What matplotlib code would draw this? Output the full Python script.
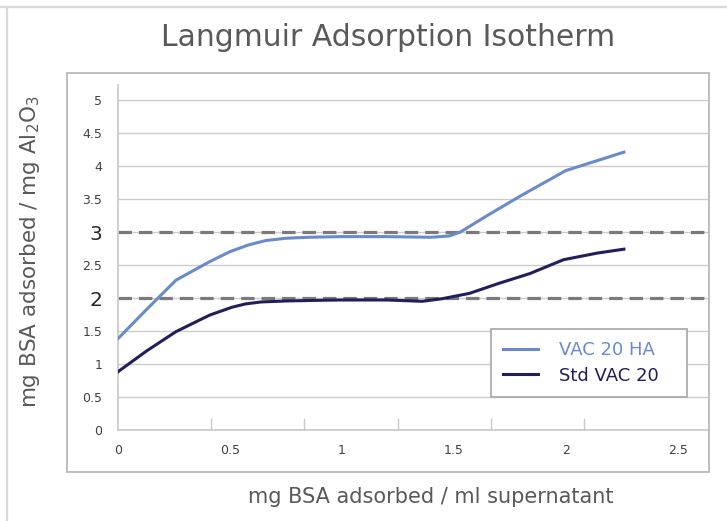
import matplotlib.pyplot as plt
from matplotlib.patches import Rectangle
from matplotlib.lines import Line2D

# values
ha_x = [0, 0.13, 0.26, 0.41, 0.5, 0.58, 0.66, 0.75, 0.85, 1.0, 1.2, 1.4, 1.48, 1.53, 1.65, 1.8, 2.0, 2.13, 2.26]
ha_y = [1.38, 1.83, 2.27, 2.55, 2.7, 2.8, 2.87, 2.905, 2.92, 2.93, 2.93, 2.92, 2.94, 3.0, 3.25, 3.55, 3.93, 4.07, 4.21]

std_x = [0, 0.13, 0.26, 0.41, 0.51, 0.57, 0.64, 0.75, 0.9, 1.0, 1.2, 1.36, 1.45, 1.57, 1.7, 1.84, 1.99, 2.14, 2.26]
std_y = [0.88, 1.2, 1.49, 1.74, 1.86, 1.91, 1.94, 1.955, 1.965, 1.97, 1.97, 1.95, 1.99, 2.07, 2.22, 2.37, 2.58, 2.68, 2.74]

ref_levels = [2, 3]
y_ticks = [0, 0.5, 1, 1.5, 2, 2.5, 3, 3.5, 4, 4.5, 5]
y_labels = ['0', '0.5', '1', '1.5', '2', '2.5', '3', '3.5', '4', '4.5', '5']
x_ticks = [0, 0.5, 1, 1.5, 2, 2.5]
x_labels = ['0', '0.5', '1', '1.5', '2', '2.5']
x_marks = [0.417, 0.833, 1.25, 1.667, 2.083, 2.5]

blue = '#6a8bcb'
navy = '#221e5c'
W, H = 727, 521

plt.rcParams['font.family'] = ['DejaVu Sans']
fig = plt.figure(figsize=(W / 100, H / 100), dpi=100)

# outer frame (top and left edge)
fig.add_artist(Line2D([0, 1], [1 - 7 / H, 1 - 7 / H], color='#d9d9d9', lw=1.6))
fig.add_artist(Line2D([7 / W, 7 / W], [0, 1 - 7 / H], color='#d9d9d9', lw=1.6))
# chart box
fig.add_artist(Rectangle((66.7 / W, 1 - 471.7 / H), (709 - 66.7) / W, (471.7 - 72.7) / H,
                         fill=False, edgecolor='#b3b3b3', lw=1.2))

ax = fig.add_axes([117.7 / W, 1 - 430 / H, (709 - 117.7) / W, 345 / H])
ax.set_facecolor('none')
ax.set_xlim(0, (709 - 117.7) / 224)
ax.set_ylim(0, 345 / 66)

for s in ['top', 'right']:
    ax.spines[s].set_visible(False)
for s in ['left', 'bottom']:
    ax.spines[s].set_color('#c8c8c8')
    ax.spines[s].set_linewidth(1.2)

ax.set_yticks(y_ticks, y_labels)
ax.set_xticks(x_ticks, x_labels)
ax.set_xticks(x_marks, minor=True)
ax.tick_params(axis='y', length=0, pad=11, labelsize=9, labelcolor='#404040')
ax.tick_params(axis='x', which='major', length=0, pad=10, labelsize=9, labelcolor='#404040')
ax.tick_params(axis='x', which='minor', direction='in', length=8.5, width=1, color='#c8c8c8')
for lab in ax.get_yticklabels():
    if lab.get_text() in ('2', '3'):
        lab.set_fontsize(14.5)
        lab.set_color('#262626')

ax.grid(axis='y', color='#cccccc', lw=1)
ax.set_axisbelow(True)

for lvl in ref_levels:
    ax.axhline(lvl, color='#7a7a7a', lw=2.3, linestyle=(0, (4.2, 2.2)), zorder=2)

ax.plot(ha_x, ha_y, color=blue, lw=2.2, label='VAC 20 HA', zorder=3,
        solid_joinstyle='round')
ax.plot(std_x, std_y, color=navy, lw=2.2, label='Std VAC 20', zorder=3,
        solid_joinstyle='round')

# legend box drawn separately so its size matches the reference
ax.add_patch(Rectangle((491 / W, 1 - 397 / H), 196 / W, 68 / H, facecolor='white',
                       edgecolor='#a6a6a6', lw=1.2, zorder=4,
                       transform=fig.transFigure, clip_on=False))
leg = ax.legend(loc='center left', bbox_to_anchor=(503 / W, 1 - 363 / H),
                bbox_transform=fig.transFigure, borderaxespad=0, borderpad=0,
                fontsize=13, frameon=False, handlelength=1.95, handletextpad=1.15,
                labelspacing=0.4)
leg.set_zorder(5)
for txt, c in zip(leg.get_texts(), [blue, navy]):
    txt.set_color(c)

fig.text(388 / W, 1 - 38 / H, 'Langmuir Adsorption Isotherm', ha='center', va='center',
         fontsize=21.5, color='#595959')
fig.text(431 / W, 1 - 497 / H, 'mg BSA adsorbed / ml supernatant', ha='center', va='center',
         fontsize=15, color='#595959')
fig.text(30 / W, 1 - 252 / H, 'mg BSA adsorbed / mg Al$_2$O$_3$', ha='center', va='center',
         rotation=90, fontsize=15.5, color='#595959')

fig.savefig('out.png', dpi=100)
